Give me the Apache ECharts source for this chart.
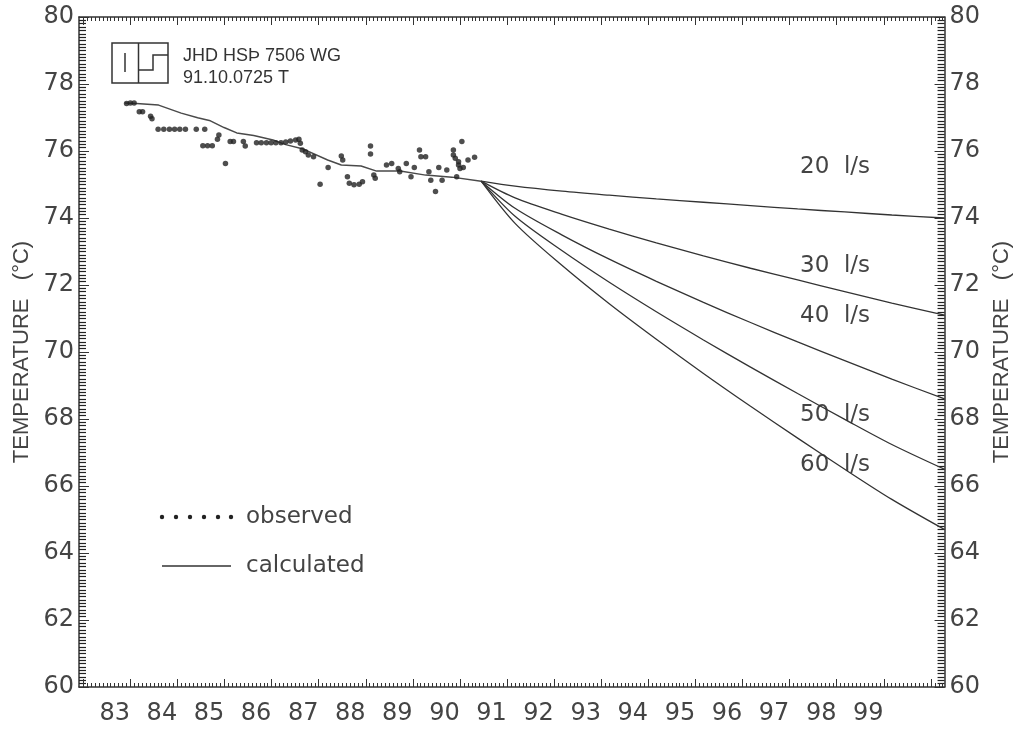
<!DOCTYPE html>
<html>
<head>
<meta charset="utf-8">
<script src="https://cdn.jsdelivr.net/npm/echarts@6.0.0/dist/echarts.min.js"></script>
<style>
  html, body { margin: 0; padding: 0; background: #fff; }
  #chart { width: 1021px; height: 731px; }
</style>
</head>
<body>
<div id="chart"></div>
<script>
// Year labels along the time axis and temperature labels (°C)
const yearLabels = [83, 84, 85, 86, 87, 88, 89, 90, 91, 92, 93, 94, 95, 96, 97, 98, 99];
const tempLabels = [60, 62, 64, 66, 68, 70, 72, 74, 76, 78, 80];

// Observed well-head temperature [year, °C]
const observed = [
  [83.25, 77.42], [83.33, 77.43], [83.41, 77.43], [83.52, 77.17], [83.59, 77.17],
  [83.76, 77.04], [83.79, 76.96], [83.92, 76.65], [84.04, 76.65], [84.16, 76.65],
  [84.27, 76.65], [84.38, 76.65], [84.50, 76.65], [84.73, 76.65], [84.91, 76.65],
  [84.87, 76.16], [84.97, 76.16], [85.07, 76.16], [85.18, 76.35], [85.21, 76.48],
  [85.35, 75.63], [85.45, 76.28], [85.52, 76.28], [85.73, 76.28], [85.77, 76.15],
  [86.01, 76.25], [86.11, 76.25], [86.22, 76.25], [86.32, 76.25], [86.42, 76.25],
  [86.53, 76.25], [86.63, 76.27], [86.73, 76.30], [86.84, 76.33], [86.91, 76.35],
  [86.94, 76.23], [86.98, 76.03], [87.05, 75.98], [87.11, 75.88], [87.22, 75.83],
  [87.53, 75.51], [87.36, 75.01], [87.81, 75.85], [87.84, 75.73], [87.94, 75.23],
  [87.98, 75.04], [88.08, 74.99], [88.19, 75.01], [88.26, 75.08], [88.43, 76.15],
  [88.43, 75.91], [88.50, 75.28], [88.53, 75.19], [88.77, 75.58], [88.88, 75.63],
  [89.02, 75.48], [89.05, 75.38], [89.19, 75.63], [89.29, 75.23], [89.36, 75.51],
  [89.47, 76.03], [89.50, 75.83], [89.60, 75.83], [89.67, 75.38], [89.71, 75.13],
  [89.81, 74.79], [89.88, 75.51], [89.95, 75.13], [90.05, 75.43], [90.19, 76.03],
  [90.23, 75.78], [90.26, 75.23], [90.30, 75.58], [90.33, 75.48], [90.37, 76.28],
  [90.40, 75.51], [90.50, 75.73], [90.64, 75.81], [90.19, 75.88], [90.30, 75.68]
];

// Calculated (model) history [year, °C]
const calculated = [
  [83.21, 77.43], [83.46, 77.42], [83.93, 77.37], [84.41, 77.13], [84.76, 76.99],
  [85.03, 76.90], [85.32, 76.70], [85.59, 76.54], [85.95, 76.46], [86.36, 76.33],
  [86.63, 76.19], [86.98, 76.07], [87.52, 75.73], [87.81, 75.58], [88.23, 75.55],
  [88.56, 75.40], [89.06, 75.40], [89.60, 75.28], [90.16, 75.22], [90.78, 75.10]
];

// Predictions for different production rates
const forecastYears = [90.78, 91.5, 92.5, 93.5, 94.5, 95.5, 96.5, 97.5, 98.5, 99.5, 100.62];
const rate20 = [75.10, 74.95, 74.80, 74.68, 74.57, 74.47, 74.37, 74.27, 74.18, 74.09, 74.00];
const rate30 = [75.10, 74.60, 74.11, 73.67, 73.26, 72.87, 72.50, 72.15, 71.80, 71.46, 71.10];
const rate40 = [75.10, 74.29, 73.49, 72.77, 72.11, 71.48, 70.88, 70.30, 69.74, 69.19, 68.60];
const rate50 = [75.10, 74.05, 73.02, 72.08, 71.20, 70.36, 69.55, 68.76, 67.99, 67.24, 66.50];
const rate60 = [75.10, 73.84, 72.58, 71.44, 70.38, 69.36, 68.38, 67.43, 66.50, 65.60, 64.70];
const rateNames = ['20  l/s', '30  l/s', '40  l/s', '50  l/s', '60  l/s'];

const X_MIN = 82.24, X_MAX = 100.62;
const TICK_SHIFT = 0.33;

// Tick positions along the time axis: one major tick per year, monthly minor ticks
const majorTicks = [];
const minorTicks = [];
for (let y = 82; y <= 100; y++) {
  const base = y + TICK_SHIFT;
  if (base > X_MIN && base < X_MAX) majorTicks.push(+base.toFixed(4));
  for (let m = 1; m < 12; m++) {
    const v = base + m / 12;
    if (v > X_MIN && v < X_MAX) minorTicks.push(+v.toFixed(4));
  }
}

const INK = '#333';
const TEXT = '#444';
const NUM_FONT = 'DejaVu Sans';

function tickAxis(position, ticks, len, showLine) {
  return {
    type: 'value', position: position, min: X_MIN, max: X_MAX,
    axisLine: { show: showLine, onZero: false, lineStyle: { color: INK, width: 1.5 } },
    axisTick: { show: true, inside: true, length: len, customValues: ticks, lineStyle: { color: INK, width: 1 } },
    axisLabel: { show: false },
    splitLine: { show: false }
  };
}

// Temperature axis with a dense comb of 0.1 °C minor ticks
function tempAxis(position, nameGap) {
  return {
    type: 'value', position: position, min: 60, max: 80, interval: 2,
    name: 'TEMPERATURE   (°C)', nameLocation: 'middle', nameRotate: 90, nameGap: nameGap,
    nameTextStyle: { fontFamily: 'Liberation Sans', fontSize: 22, color: TEXT },
    axisLine: { show: true, onZero: false, lineStyle: { color: INK, width: 1.5 } },
    axisTick: { show: true, inside: true, length: 10, lineStyle: { color: INK, width: 1 } },
    minorTick: { show: true, splitNumber: 20, length: 7, lineStyle: { color: '#222', width: 1.2 } },
    axisLabel: {
      fontFamily: NUM_FONT, fontSize: 24, color: TEXT, margin: 5,
      formatter: v => (tempLabels.indexOf(v) >= 0 ? String(v) : '')
    },
    splitLine: { show: false },
    minorSplitLine: { show: false }
  };
}

function forecast(values) {
  return {
    type: 'line', data: forecastYears.map((x, i) => [x, values[i]]),
    showSymbol: false, smooth: 0.3, lineStyle: { color: INK, width: 1.3 }, z: 3
  };
}

const chart = echarts.init(document.getElementById('chart'), null, { renderer: 'canvas' });

const option = {
  animation: false,
  backgroundColor: '#fff',
  grid: { left: 79, right: 58, top: 17, bottom: 44, containLabel: false },
  xAxis: [
    {
      type: 'value', position: 'bottom', min: X_MIN, max: X_MAX,
      axisLine: { show: true, onZero: false, lineStyle: { color: INK, width: 1.5 } },
      axisTick: { show: false },
      axisLabel: {
        customValues: yearLabels, fontFamily: NUM_FONT, fontSize: 24, color: TEXT, margin: 15,
        formatter: v => String(Math.round(v))
      },
      splitLine: { show: false }
    },
    tickAxis('bottom', majorTicks, 8, false),
    tickAxis('bottom', minorTicks, 4, false),
    tickAxis('top', majorTicks, 8, true),
    tickAxis('top', minorTicks, 4, false)
  ],
  yAxis: [tempAxis('left', 45), tempAxis('right', 34)],
  series: [
    {
      type: 'line', data: calculated, showSymbol: false,
      lineStyle: { color: '#4a4a4a', width: 1.5 }, z: 3
    },
    forecast(rate20), forecast(rate30), forecast(rate40), forecast(rate50), forecast(rate60),
    {
      type: 'scatter', data: observed, symbol: 'circle', symbolSize: 5.5,
      itemStyle: { color: '#222' }, z: 4
    }
  ],
  graphic: [
    // Institute logo
    { type: 'rect', shape: { x: 112, y: 43, width: 56, height: 40 }, style: { fill: 'none', stroke: INK, lineWidth: 1.5 } },
    { type: 'line', shape: { x1: 138.5, y1: 43, x2: 138.5, y2: 83 }, style: { stroke: INK, lineWidth: 1.5 } },
    { type: 'line', shape: { x1: 125, y1: 53, x2: 125, y2: 72 }, style: { stroke: INK, lineWidth: 1.5 } },
    { type: 'polyline', shape: { points: [[138.5, 70], [153, 70], [153, 55], [168, 55]] }, style: { fill: 'none', stroke: INK, lineWidth: 1.5 } },
    { type: 'text', x: 183, y: 56, style: { text: 'JHD HSÞ 7506 WG', font: '18px "Liberation Sans"', fill: INK, verticalAlign: 'middle' } },
    { type: 'text', x: 183, y: 78, style: { text: '91.10.0725 T', font: '18px "Liberation Sans"', fill: INK, verticalAlign: 'middle' } },
    // Legend
    { type: 'circle', shape: { cx: 162, cy: 517, r: 2.2 }, style: { fill: '#222' } },
    { type: 'circle', shape: { cx: 176, cy: 517, r: 2.2 }, style: { fill: '#222' } },
    { type: 'circle', shape: { cx: 190, cy: 517, r: 2.2 }, style: { fill: '#222' } },
    { type: 'circle', shape: { cx: 204, cy: 517, r: 2.2 }, style: { fill: '#222' } },
    { type: 'circle', shape: { cx: 218, cy: 517, r: 2.2 }, style: { fill: '#222' } },
    { type: 'circle', shape: { cx: 231, cy: 517, r: 2.2 }, style: { fill: '#222' } },
    { type: 'text', x: 246, y: 517, style: { text: 'observed', font: '23px "DejaVu Sans"', fill: TEXT, verticalAlign: 'middle' } },
    { type: 'line', shape: { x1: 162, y1: 566, x2: 231, y2: 566 }, style: { stroke: '#666', lineWidth: 2 } },
    { type: 'text', x: 246, y: 566, style: { text: 'calculated', font: '23px "DejaVu Sans"', fill: TEXT, verticalAlign: 'middle' } },
    // Production rate labels
    { type: 'text', x: 800, y: 167, style: { text: rateNames[0], font: '23px "DejaVu Sans"', fill: TEXT, verticalAlign: 'middle' } },
    { type: 'text', x: 800, y: 266, style: { text: rateNames[1], font: '23px "DejaVu Sans"', fill: TEXT, verticalAlign: 'middle' } },
    { type: 'text', x: 800, y: 316, style: { text: rateNames[2], font: '23px "DejaVu Sans"', fill: TEXT, verticalAlign: 'middle' } },
    { type: 'text', x: 800, y: 415, style: { text: rateNames[3], font: '23px "DejaVu Sans"', fill: TEXT, verticalAlign: 'middle' } },
    { type: 'text', x: 800, y: 465, style: { text: rateNames[4], font: '23px "DejaVu Sans"', fill: TEXT, verticalAlign: 'middle' } }
  ]
};

chart.setOption(option);
</script>
</body>
</html>
